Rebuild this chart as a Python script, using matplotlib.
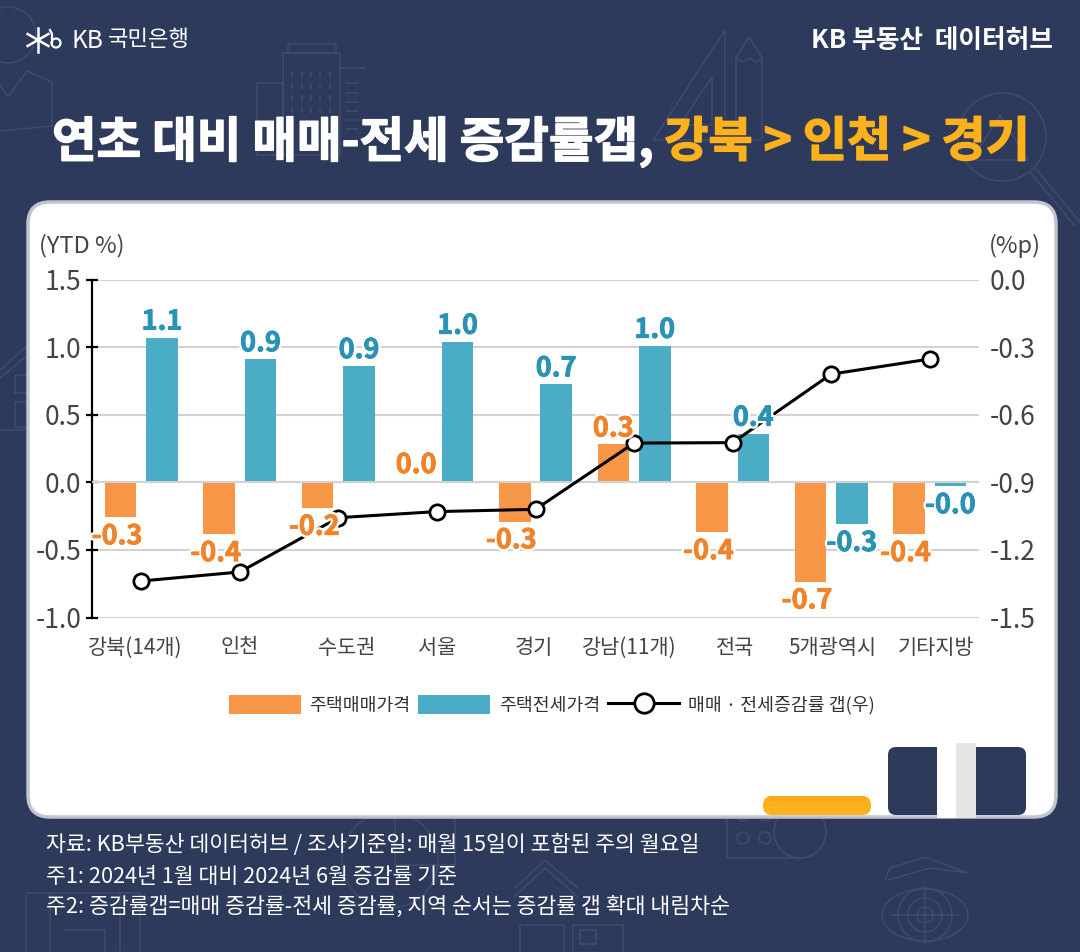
import numpy as np
import matplotlib
matplotlib.use('Agg')
import matplotlib.pyplot as plt
import matplotlib.patheffects as pe
from matplotlib.patches import FancyBboxPatch, Rectangle, Circle, Ellipse
from matplotlib.lines import Line2D

plt.rcParams['font.family'] = ['Noto Sans CJK KR', 'DejaVu Sans']
plt.rcParams['axes.unicode_minus'] = False

categories = ['강북(14개)', '인천', '수도권', '서울', '경기', '강남(11개)', '전국', '5개광역시', '기타지방']
sale_values = [-0.26, -0.385, -0.19, 0.01, -0.29, 0.28, -0.37, -0.735, -0.385]
jeonse_values = [1.07, 0.91, 0.86, 1.04, 0.725, 1.01, 0.36, -0.31, -0.03]
gap_values = [-1.338, -1.298, -1.057, -1.03, -1.02, -0.726, -0.724, -0.42, -0.353]
left_ticks = [-1.0, -0.5, 0.0, 0.5, 1.0, 1.5]
right_ticks = [-1.5, -1.2, -0.9, -0.6, -0.3, 0.0]
label_nudge = [-6, 0, 8, 0, -2, -5, 2, 1, 6]

NAVY = '#2d3a5c'
DECO = '#3f4b6d'
ORANGE = '#f79646'
BLUE = '#4bacc6'
ORANGE_TXT = '#f0842c'
BLUE_TXT = '#2a93b5'
YELLOW = '#fdb21c'
GREY_TXT = '#444444'
W, H = 1080, 952

fig = plt.figure(figsize=(W / 100, H / 100), dpi=100, facecolor=NAVY)

# backdrop in pixel coords
bg = fig.add_axes([0, 0, 1, 1], zorder=0)
bg.set_xlim(0, W)
bg.set_ylim(H, 0)
bg.axis('off')


def deco_line(*pts):
    xs, ys = zip(*pts)
    bg.plot(xs, ys, color=DECO, lw=1.1, solid_capstyle='round', zorder=0.5)


def deco_box(x, y, w, h):
    bg.add_patch(Rectangle((x, y), w, h, fill=False, ec=DECO, lw=1.1, zorder=0.5))


def deco_circle(x, y, r):
    bg.add_patch(Circle((x, y), r, fill=False, ec=DECO, lw=1.1, zorder=0.5))


# top left chart icon
deco_circle(8, 35, 28)
deco_line((0, 85), (8, 97), (27, 71), (52, 82), (52, 126), (0, 131))
# buildings
deco_box(283, 53, 57, 102)
deco_box(288, 44, 48, 9)
deco_box(257, 83, 26, 72)
deco_line((340, 68), (365, 68))
for wx in (292, 302, 311, 320, 330):
    for wy in (72, 84, 96, 108):
        deco_line((wx, wy), (wx, wy + 5))
for wy in (83, 93, 102, 111, 120, 129):
    deco_line((346, wy), (358, wy))
# set square and pencil
deco_line((725, 30), (653, 140), (760, 140))
deco_line((725, 30), (725, 118))
deco_line((712, 77), (712, 125), (680, 125), (712, 77))
deco_line((736, 140), (736, 58), (749, 37), (762, 58), (762, 140))
deco_line((736, 58), (743, 62), (749, 58), (756, 62), (762, 58))
# magnifier with house
deco_circle(1002, 137, 44)
deco_line((1035, 168), (1080, 222))
deco_line((1030, 172), (1075, 226))
deco_line((972, 160), (1000, 115), (1028, 160), (972, 160))
# left house
deco_line((0, 370), (28, 345))
deco_line((0, 378), (28, 355))
deco_box(15, 375, 13, 18)
deco_box(15, 402, 13, 25)
deco_line((0, 430), (28, 430))
# bottom icons
deco_circle(390, 860, 48)
deco_box(395, 815, 60, 50)
deco_box(26, 893, 114, 70)
deco_line((50, 893), (50, 960))
deco_line((65, 930), (105, 930), (105, 955))
deco_line((120, 893), (120, 950))
deco_line((727, 810), (727, 858), (800, 858))
deco_circle(800, 832, 26)
for cx in (743, 765):
    deco_circle(cx, 838, 6)
    deco_circle(cx, 815, 6)
deco_line((515, 888), (545, 860), (578, 888))
deco_line((514, 897), (545, 868), (578, 897))
deco_box(520, 925, 44, 40)
deco_box(573, 925, 50, 40)
deco_box(580, 930, 16, 14)
# eye
bg.add_patch(Ellipse((925, 915), 86, 52, fill=False, ec=DECO, lw=1.1, zorder=0.5))
for r in (27, 17, 8):
    deco_circle(925, 915, r)
deco_line((925, 885), (925, 945))
deco_line((892, 915), (958, 915))
deco_line((885, 880), (890, 868), (925, 857), (968, 873), (930, 868), (888, 880))

# white card
bg.add_patch(FancyBboxPatch((28, 202), 1028, 615, boxstyle='round,pad=0,rounding_size=22',
                            fc='white', ec='#bfc4cf', lw=2.5, zorder=1))
# binder clip and pill bottom right
bg.add_patch(FancyBboxPatch((888, 747), 138, 68, boxstyle='round,pad=0,rounding_size=8',
                            fc=NAVY, ec='none', zorder=1.1))
bg.add_patch(Rectangle((937, 743), 19, 75, fc='white', ec='none', zorder=1.2))
bg.add_patch(Rectangle((956, 743), 20, 75, fc='#e6e6e6', ec='none', zorder=1.2))
bg.add_patch(FancyBboxPatch((763, 796), 108, 19, boxstyle='round,pad=0,rounding_size=9',
                            fc=YELLOW, ec='none', zorder=1.1))
bg.add_patch(Rectangle((769, 796), 96, 5, fc='#f8a81a', ec='none', zorder=1.2))

# logo and heads
star_x, star_y = 38, 40
for ang in (90, 30, 150):
    dx, dy = 12 * np.cos(np.radians(ang)), 12 * np.sin(np.radians(ang))
    bg.plot([star_x - dx, star_x + dx], [star_y - dy, star_y + dy], color='white', lw=1.8, zorder=2)
bg.add_patch(Circle((56, 43), 4.5, fill=False, ec='white', lw=1.6, zorder=2))
bg.plot([52, 52, 50], [43, 34, 30], color='white', lw=1.6, zorder=2)
bg.text(72, 41, 'KB', color='white', fontsize=17.5, va='center', ha='left', fontweight='light')
bg.text(108, 40, '국민은행', color='white', fontsize=16, va='center', ha='left')
bg.text(1053, 40, 'KB 부동산  데이터허브', color='white', fontsize=18.5, va='center', ha='right',
        fontweight='bold')

thick_w = [pe.withStroke(linewidth=1.0, foreground='white')]
thick_y = [pe.withStroke(linewidth=1.0, foreground=YELLOW)]
bg.text(52, 142, '연초 대비 매매-전세 증감률갭,', color='white', fontsize=34.9, va='center', ha='left',
        fontweight='bold', path_effects=thick_w)
bg.text(1030, 142, '강북 > 인천 > 경기', color=YELLOW, fontsize=34.6, va='center', ha='right',
        fontweight='bold', path_effects=thick_y)

# footnotes
for y, note in zip((845, 877, 907), ('자료: KB부동산 데이터허브 / 조사기준일: 매월 15일이 포함된 주의 월요일',
                                     '주1: 2024년 1월 대비 2024년 6월 증감률 기준',
                                     '주2: 증감률갭=매매 증감률-전세 증감률, 지역 순서는 증감률 갭 확대 내림차순')):
    bg.text(46, y, note, color='white', fontsize=15.6, va='center', ha='left')

# chart
ax = fig.add_axes([92 / W, 1 - 617.5 / H, 887 / W, 338 / H], zorder=2)
ax.patch.set_alpha(0)
x = np.arange(len(categories))
ax.set_xlim(-0.5, len(categories) - 0.5)
ax.set_ylim(-1.0, 1.5)
ax.set_yticks(left_ticks)
ax.set_yticklabels([f'{v:.1f}' for v in left_ticks])
ax.grid(axis='y', color='#d2d2d2', lw=1.5, zorder=0)
ax.set_axisbelow(True)
ax.bar(x - 0.21, sale_values, 0.32, color=ORANGE, zorder=2)
ax.bar(x + 0.21, jeonse_values, 0.32, color=BLUE, zorder=2)
ax.axhline(0, color='#d2d2d2', lw=1.5, zorder=3)
for s in ('top', 'right', 'bottom'):
    ax.spines[s].set_visible(False)
ax.spines['left'].set_linewidth(1.6)
ax.tick_params(axis='y', direction='inout', length=9, width=1.6, labelsize=19, labelcolor=GREY_TXT, pad=3)
ax.set_xticks([])
for i, name in enumerate(categories):
    ax.annotate(name, (i, 0), xycoords=('data', 'axes fraction'), xytext=(label_nudge[i] * 0.72, -30 * 0.72),
                textcoords='offset points', ha='center', va='center', fontsize=15, color=GREY_TXT)

ax2 = ax.twinx()
ax2.set_zorder(3)
ax2.patch.set_alpha(0)
ax2.set_ylim(-1.5, 0.0)
ax2.set_yticks(right_ticks)
ax2.set_yticklabels([f'{v:.1f}' for v in right_ticks])
for s in ax2.spines.values():
    s.set_visible(False)
ax2.tick_params(axis='y', length=0, labelsize=19, labelcolor=GREY_TXT, pad=8)
ax2.plot(x, gap_values, color='black', lw=2.2, marker='o', ms=11, mfc='white', mec='black', mew=2)


# value labels sit above the line
def value_labels(offset, values, color, neg_nudge):
    halo = [pe.withStroke(linewidth=4, foreground='white'), pe.withStroke(linewidth=0.6, foreground=color)]
    for i, v in enumerate(values):
        off = 11.5 if v >= 0 else -13.5
        nudge = 0 if v >= 0 else neg_nudge
        ax2.annotate(f'{v:.1f}', (i + offset, v), xycoords=ax.transData, xytext=(nudge, off),
                     textcoords='offset points', ha='center', va='center', fontsize=19.5,
                     fontweight='bold', color=color, path_effects=halo, zorder=6)


value_labels(-0.21, sale_values, ORANGE_TXT, -2.5)
value_labels(0.21, jeonse_values, BLUE_TXT, 0)

bg.text(39, 246, '(YTD %)', fontsize=17, color=GREY_TXT, va='center', ha='left', zorder=3)
bg.text(1041, 246, '(%p)', fontsize=17, color=GREY_TXT, va='center', ha='right', zorder=3)

# legend
handles = [Rectangle((0, 0), 1, 1, fc=ORANGE), Rectangle((0, 0), 1, 1, fc=BLUE),
           Line2D([], [], color='black', lw=2.2, marker='o', ms=14, mfc='white', mec='black', mew=2)]
fig.legend(handles, ['주택매매가격', '주택전세가격', '매매 · 전세증감률 갭(우)'], loc='center',
           bbox_to_anchor=(552 / W, 1 - 705 / H), ncol=3, frameon=False, fontsize=13.2,
           handlelength=3.9, handleheight=1.25, handletextpad=0.48, columnspacing=0.43,
           labelcolor='#333333')

fig.savefig('out.png', dpi=100, facecolor=NAVY)
